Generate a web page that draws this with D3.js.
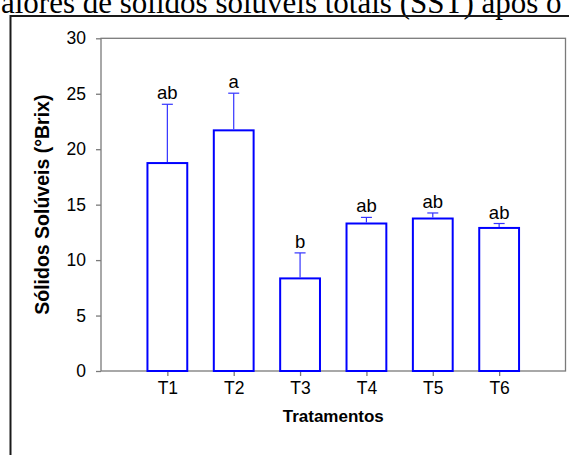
<!DOCTYPE html>
<html>
<head>
<meta charset="utf-8">
<script src="https://cdn.jsdelivr.net/npm/d3@7"></script>
<style>
  body { margin: 0; background: #fff; }
  svg { display: block; }
</style>
</head>
<body>
<div class="d3-container"></div>
<script>
const w = 569
const h = 455

// data
const categories = ['T1', 'T2', 'T3', 'T4', 'T5', 'T6']
const means = [18.75, 21.7, 8.35, 13.3, 13.75, 12.9]
const errors = [5.3, 3.35, 2.3, 0.55, 0.5, 0.4]
const letters = ['ab', 'a', 'b', 'ab', 'ab', 'ab']
const yTicks = [0, 5, 10, 15, 20, 25, 30]

// plot box edges
const pLeft = 101
const pRight = 565.5
const pTop = 38.3
const pBottom = 371

const sans = 'Liberation Sans, Arial, sans-serif'

const svg = d3.select('.d3-container')
    .append('svg')
    .attr('width', w)
    .attr('height', h)

// cut-off caption from the page above
svg.append('text')
    .attr('x', -14.5)
    .attr('y', 12.5)
    .attr('font-family', 'Liberation Serif, Times New Roman, serif')
    .attr('font-size', 31)
    .attr('fill', '#000')
    .text('valores de sólidos solúveis totais (SST) após o período')

// outer frame
svg.append('path')
    .attr('d', `M10.5,${h} V16 H${w}`)
    .attr('fill', 'none')
    .attr('stroke', '#1a1a1a')
    .attr('stroke-width', 2)

const x = d3.scaleLinear()
    .domain([0, categories.length + 1])
    .range([pLeft, pRight])

const y = d3.scaleLinear()
    .domain([0, 30])
    .range([pBottom, pTop])

const barW = x(0.6) - x(0)

// plot box
svg.append('rect')
    .attr('x', pLeft)
    .attr('y', pTop)
    .attr('width', pRight - pLeft)
    .attr('height', pBottom - pTop)
    .attr('fill', 'none')
    .attr('stroke', '#7a7a7a')
    .attr('stroke-width', 1.3)

const yAxis = d3.axisLeft(y)
    .tickValues(yTicks)
    .tickSize(5)
    .tickPadding(10)

const gy = svg.append('g')
    .attr('transform', `translate(${pLeft}, 0)`)
    .call(yAxis)
gy.select('.domain').remove()
gy.selectAll('line').attr('stroke', '#7a7a7a').attr('stroke-width', 1.3)
gy.selectAll('text')
    .attr('font-family', sans)
    .attr('font-size', 17.5)
    .attr('fill', '#000')

const xAxis = d3.axisBottom(x)
    .tickValues(d3.range(1, categories.length + 1))
    .tickFormat((d) => categories[d - 1])
    .tickSize(5)
    .tickPadding(6)

const gx = svg.append('g')
    .attr('transform', `translate(0, ${pBottom})`)
    .call(xAxis)
gx.select('.domain').remove()
gx.selectAll('line').attr('stroke', '#7a7a7a').attr('stroke-width', 1.3)
gx.selectAll('text')
    .attr('font-family', sans)
    .attr('font-size', 17.5)
    .attr('fill', '#000')

// bars
svg.append('g')
    .selectAll('rect')
    .data(means)
    .enter()
    .append('rect')
    .attr('x', (d, i) => x(i + 1) - barW / 2)
    .attr('y', (d) => y(d))
    .attr('width', barW)
    .attr('height', (d) => pBottom - y(d))
    .attr('fill', '#fff')
    .attr('stroke', '#0000ff')
    .attr('stroke-width', 2)

// error bars, upper only
const err = svg.append('g')
    .attr('stroke', '#3333ff')
    .attr('stroke-width', 1.2)

err.selectAll('.whisker')
    .data(means)
    .enter()
    .append('line')
    .attr('class', 'whisker')
    .attr('x1', (d, i) => x(i + 1))
    .attr('x2', (d, i) => x(i + 1))
    .attr('y1', (d) => y(d) - 1)
    .attr('y2', (d, i) => y(d + errors[i]))

err.selectAll('.cap')
    .data(means)
    .enter()
    .append('line')
    .attr('class', 'cap')
    .attr('x1', (d, i) => x(i + 1) - 5.5)
    .attr('x2', (d, i) => x(i + 1) + 5.5)
    .attr('y1', (d, i) => y(d + errors[i]))
    .attr('y2', (d, i) => y(d + errors[i]))

// significance letters
svg.append('g')
    .selectAll('text')
    .data(letters)
    .enter()
    .append('text')
    .attr('x', (d, i) => x(i + 1))
    .attr('y', (d, i) => y(means[i] + errors[i]) - 5)
    .attr('text-anchor', 'middle')
    .attr('font-family', sans)
    .attr('font-size', 18.5)
    .attr('fill', '#000')
    .text((d) => d)

// axis titles
svg.append('text')
    .attr('x', (pLeft + pRight) / 2)
    .attr('y', 422)
    .attr('text-anchor', 'middle')
    .attr('font-family', sans)
    .attr('font-size', 17)
    .attr('font-weight', 'bold')
    .text('Tratamentos')

svg.append('text')
    .attr('transform', `translate(49, ${(pTop + pBottom) / 2}) rotate(-90)`)
    .attr('text-anchor', 'middle')
    .attr('font-family', sans)
    .attr('font-size', 19.5)
    .attr('font-weight', 'bold')
    .text('Sólidos Solúveis (°Brix)')
</script>
</body>
</html>
